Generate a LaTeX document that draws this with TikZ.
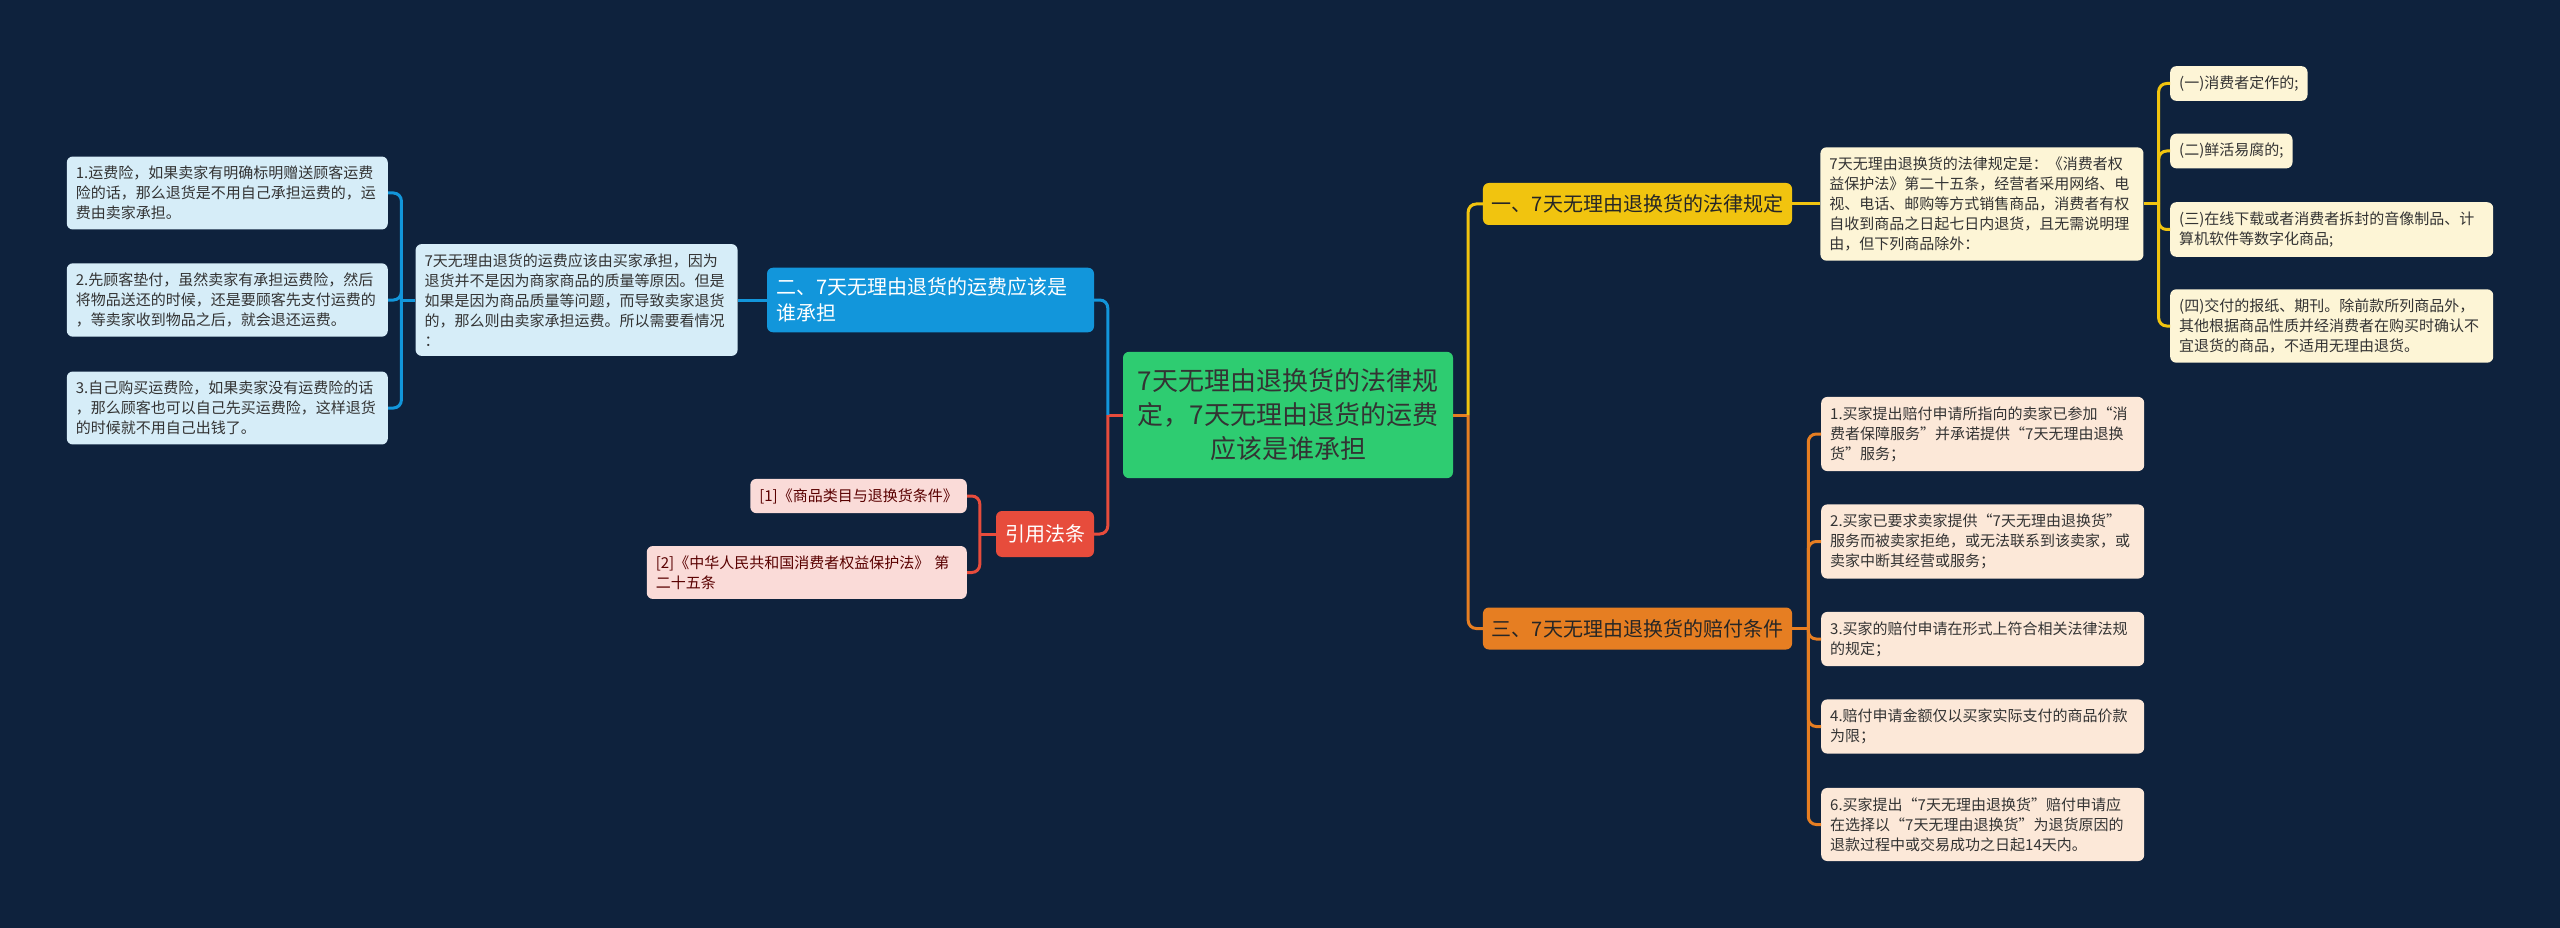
\documentclass[tikz,border=0pt]{standalone}
\usepackage{fontspec}
\setmainfont{Noto Sans CJK SC}
\usetikzlibrary{positioning}
\definecolor{bg}{RGB}{14,34,61}
\definecolor{mmgreen}{RGB}{46,204,113}
\definecolor{mmyellow}{RGB}{241,196,15}
\definecolor{mmorange}{RGB}{230,126,34}
\definecolor{mmblue}{RGB}{18,150,219}
\definecolor{mmred}{RGB}{231,76,60}
\definecolor{lfyellow}{RGB}{253,245,214}
\definecolor{lforange}{RGB}{252,232,216}
\definecolor{lfblue}{RGB}{214,237,248}
\definecolor{lfred}{RGB}{250,219,216}
\begin{document}
\begin{tikzpicture}[
  x=1pt, y=-1pt,
  node distance=28pt,
  rootnode/.style={fill=mmgreen, rounded corners=6pt, text=black!80, align=center,
                   font=\fontsize{26}{34}\selectfont, inner xsep=14pt, inner ysep=17pt,
                   minimum width=330pt},
  topic/.style={rounded corners=6pt, font=\fontsize{20}{26}\selectfont,
                inner xsep=9pt, minimum height=42pt},
  leaf/.style={rounded corners=6pt, font=\fontsize{15}{20}\selectfont, align=left,
               inner xsep=9pt, inner ysep=9.5pt, text=black!80},
  link/.style={line width=3pt, rounded corners=8pt},
]
\fill[bg] (0,0) rectangle (2560,928);
% root and main topics
\node[rootnode] (root) at (1288,415) {7天无理由退换货的法律规\\定，7天无理由退货的运费\\应该是谁承担};
\node[topic, fill=mmyellow, text=black!85, minimum width=307pt] (law) at (1637.5,204) {一、7天无理由退换货的法律规定};
\node[topic, fill=mmorange, text=black!85, minimum width=307pt] (pay) at (1637.5,628.5) {三、7天无理由退换货的赔付条件};
\node[topic, fill=mmblue, text=white, align=left, text width=309pt, inner ysep=10pt] (fee) at (930.5,300) {二、7天无理由退货的运费应该是\\谁承担};
\node[topic, fill=mmred, text=white, minimum height=46pt] (cite) at (1045,534) {引用法条};
% legal rule
\node[leaf, fill=lfyellow, text width=305pt, right=28pt of law] (rule) {7天无理由退换货的法律规定是：《消费者权\\益保护法》第二十五条，经营者采用网络、电\\视、电话、邮购等方式销售商品，消费者有权\\自收到商品之日起七日内退货，且无需说明理\\由，但下列商品除外：};
\node[leaf, fill=lfyellow, anchor=west] (ex1) at (2170,83.5) {(一)消费者定作的;};
\node[leaf, fill=lfyellow, anchor=west] (ex2) at (2170,151) {(二)鲜活易腐的;};
\node[leaf, fill=lfyellow, anchor=west, text width=305pt] (ex3) at (2170,229.5) {(三)在线下载或者消费者拆封的音像制品、计\\算机软件等数字化商品;};
\node[leaf, fill=lfyellow, anchor=west, text width=305pt] (ex4) at (2170,326) {(四)交付的报纸、期刊。除前款所列商品外，\\其他根据商品性质并经消费者在购买时确认不\\宜退货的商品，不适用无理由退货。};
% compensation conditions
\node[leaf, fill=lforange, anchor=west, text width=305pt] (cond1) at (1821,434) {1.买家提出赔付申请所指向的卖家已参加“消\\费者保障服务”并承诺提供“7天无理由退换\\货”服务；};
\node[leaf, fill=lforange, anchor=west, text width=305pt] (cond2) at (1821,541.5) {2.买家已要求卖家提供“7天无理由退换货”\\服务而被卖家拒绝，或无法联系到该卖家，或\\卖家中断其经营或服务；};
\node[leaf, fill=lforange, anchor=west, text width=305pt] (cond3) at (1821,639) {3.买家的赔付申请在形式上符合相关法律法规\\的规定；};
\node[leaf, fill=lforange, anchor=west, text width=305pt] (cond4) at (1821,726.5) {4.赔付申请金额仅以买家实际支付的商品价款\\为限；};
\node[leaf, fill=lforange, anchor=west, text width=305pt] (cond6) at (1821,824.5) {6.买家提出“7天无理由退换货”赔付申请应\\在选择以“7天无理由退换货”为退货原因的\\退款过程中或交易成功之日起14天内。};
% shipping fee
\node[leaf, fill=lfblue, text width=304pt, left=29pt of fee] (who) {7天无理由退货的运费应该由买家承担，因为\\退货并不是因为商家商品的质量等原因。但是\\如果是因为商品质量等问题，而导致卖家退货\\的，那么则由卖家承担运费。所以需要看情况\\：};
\node[leaf, fill=lfblue, anchor=east, text width=303pt] (case1) at (388,193) {1.运费险，如果卖家有明确标明赠送顾客运费\\险的话，那么退货是不用自己承担运费的，运\\费由卖家承担。};
\node[leaf, fill=lfblue, anchor=east, text width=303pt] (case2) at (388,300) {2.先顾客垫付，虽然卖家有承担运费险，然后\\将物品送还的时候，还是要顾客先支付运费的\\，等卖家收到物品之后，就会退还运费。};
\node[leaf, fill=lfblue, anchor=east, text width=303pt] (case3) at (388,408) {3.自己购买运费险，如果卖家没有运费险的话\\，那么顾客也可以自己先买运费险，这样退货\\的时候就不用自己出钱了。};
% references
\node[leaf, fill=lfred, text=red!35!black, anchor=east] (ref1) at (967,496) {[1]《商品类目与退换货条件》};
\node[leaf, fill=lfred, text=red!35!black, anchor=east, text width=302pt] (ref2) at (967,572.5) {[2]《中华人民共和国消费者权益保护法》 第\\二十五条};
% junctions
\coordinate[right=15pt of root] (rootR);
\coordinate[left=15pt of root] (rootL);
\coordinate[right=15pt of rule] (ruleJ);
\coordinate[right=16pt of pay] (payJ);
\coordinate[left=14pt of who] (whoJ);
\coordinate[left=16pt of cite] (citeJ);
% links
\draw[link, mmorange] (root.east) -- (rootR);
\draw[link, mmyellow] (rootR) |- (law.west);
\draw[link, mmorange] (rootR) |- (pay.west);
\draw[link, mmred] (root.west) -- (rootL);
\draw[link, mmblue] (rootL) |- (fee.east);
\draw[link, mmred] (rootL) |- (cite.east);
\draw[link, mmyellow] (law.east) -- (rule.west);
\draw[link, mmyellow] (rule.east) -- (ruleJ);
\foreach \n in {ex1,ex2,ex3,ex4}
  \draw[link, mmyellow] (ruleJ) |- (\n.west);
\draw[link, mmorange] (pay.east) -- (payJ);
\foreach \n in {cond1,cond2,cond3,cond4,cond6}
  \draw[link, mmorange] (payJ) |- (\n.west);
\draw[link, mmblue] (fee.west) -- (who.east);
\draw[link, mmblue] (who.west) -- (whoJ);
\foreach \n in {case1,case2,case3}
  \draw[link, mmblue] (whoJ) |- (\n.east);
\draw[link, mmred] (cite.west) -- (citeJ);
\foreach \n in {ref1,ref2}
  \draw[link, mmred] (citeJ) |- (\n.east);
\end{tikzpicture}
\end{document}
